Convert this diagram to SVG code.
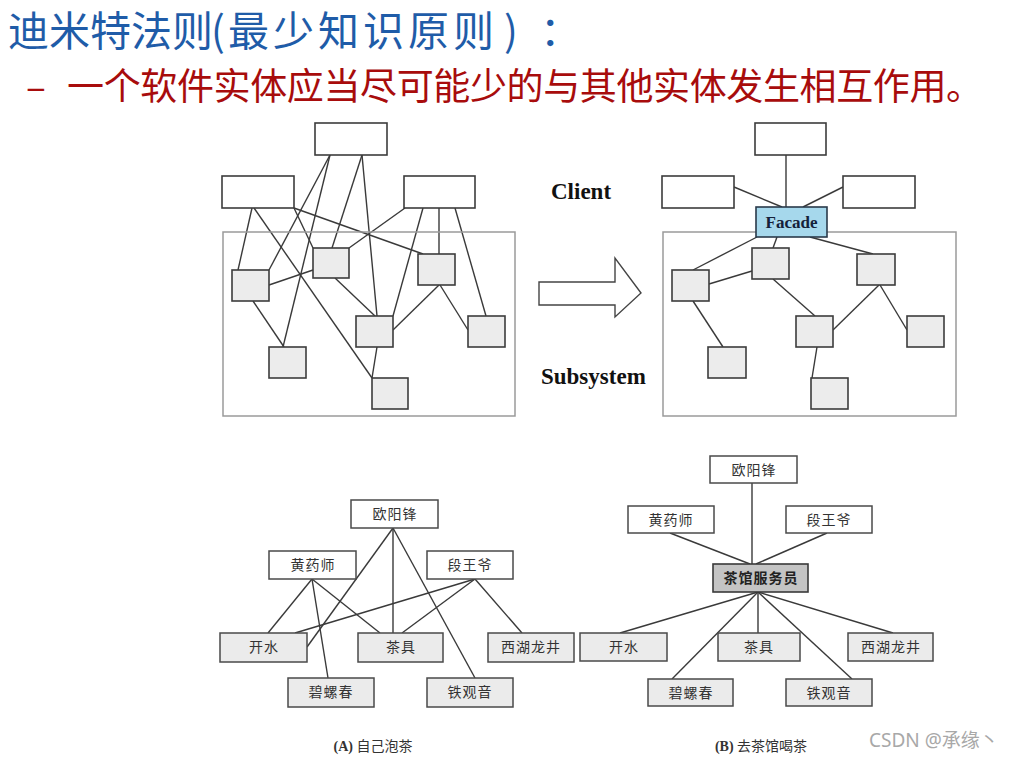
<svg xmlns="http://www.w3.org/2000/svg" width="1010" height="757" viewBox="0 0 1010 757">
<style>
.title{font-family:"Noto Sans CJK SC","Noto Sans",sans-serif;font-size:41px;fill:#1f5ca8}
.sub{font-family:"Noto Sans CJK SC","Noto Sans",sans-serif;font-size:37px;fill:#a80c0c}
.cb{fill:#fff;stroke:#3c3c3c;stroke-width:1.6}
.sb{fill:#ececec;stroke:#3c3c3c;stroke-width:1.6}
.outer{fill:none;stroke:#9a9a9a;stroke-width:1.5}
.ln{stroke:#3a3a3a;stroke-width:1.4;fill:none}
.lbl{font-family:"Liberation Serif",serif;font-weight:bold;font-size:23px;fill:#111}
.fac{fill:#a6d8ec;stroke:#2a3a4a;stroke-width:1.6}
.ft{font-family:"Liberation Serif",serif;font-weight:bold;font-size:17px;fill:#14213a}
.tb{fill:#fff;stroke:#4a4a4a;stroke-width:1.5}
.tg{fill:#ebebeb;stroke:#4a4a4a;stroke-width:1.5}
.tw{fill:#c4c4c4;stroke:#3a3a3a;stroke-width:1.6}
.tt{font-family:"Noto Sans CJK SC",sans-serif;font-size:14px;fill:#333;text-anchor:middle;letter-spacing:1px}
.ttb{font-family:"Noto Sans CJK SC",sans-serif;font-size:14px;font-weight:bold;fill:#222;text-anchor:middle;letter-spacing:1px}
.cap{font-family:"Liberation Serif","Noto Sans CJK SC",serif;font-size:14px;fill:#333;text-anchor:middle}
.wm{font-family:"Noto Sans","Noto Sans CJK SC",sans-serif;font-size:19px;fill:#a8a8a8}
</style>
<rect width="1010" height="757" fill="#fff"/>
<text class="title" y="46"><tspan x="8">迪米特法则</tspan><tspan x="211">(</tspan><tspan x="228" letter-spacing="4">最少知识原则</tspan><tspan x="504">)</tspan><tspan x="540">：</tspan></text>
<text class="sub" x="26" y="100">–</text>
<text class="sub" x="67" y="100" textLength="916" lengthAdjust="spacing">一个软件实体应当尽可能少的与其他实体发生相互作用。</text>

<g id="connectors">
  <!-- left facade diagram -->
  <line class="ln" x1="330" y1="155" x2="269" y2="270"/>
  <line class="ln" x1="330" y1="155" x2="283" y2="347"/>
  <line class="ln" x1="362" y1="155" x2="332" y2="248"/>
  <line class="ln" x1="362" y1="155" x2="377" y2="316"/>
  <line class="ln" x1="252" y1="208" x2="238" y2="270"/>
  <line class="ln" x1="254" y1="208" x2="372" y2="378"/>
  <line class="ln" x1="294" y1="208" x2="423" y2="254"/>
  <line class="ln" x1="294" y1="208" x2="313" y2="248"/>
  <line class="ln" x1="405" y1="208" x2="349" y2="248"/>
  <line class="ln" x1="423" y1="208" x2="393" y2="316"/>
  <line class="ln" x1="439" y1="208" x2="439" y2="254"/>
  <line class="ln" x1="455" y1="208" x2="486" y2="316"/>
  <line class="ln" x1="269" y1="285" x2="313" y2="270"/>
  <line class="ln" x1="253" y1="301" x2="284" y2="347"/>
  <line class="ln" x1="335" y1="278" x2="375" y2="316"/>
  <line class="ln" x1="439" y1="285" x2="393" y2="330"/>
  <line class="ln" x1="440" y1="285" x2="468" y2="330"/>
  <line class="ln" x1="377" y1="347" x2="372" y2="378"/>
  <!-- right facade diagram -->
  <line class="ln" x1="786" y1="155" x2="786" y2="207"/>
  <line class="ln" x1="734" y1="187" x2="782" y2="207"/>
  <line class="ln" x1="843" y1="187" x2="803" y2="207"/>
  <line class="ln" x1="757" y1="237" x2="693" y2="270"/>
  <line class="ln" x1="777" y1="237" x2="773" y2="248"/>
  <line class="ln" x1="810" y1="237" x2="873" y2="254"/>
  <line class="ln" x1="709" y1="284" x2="752" y2="271"/>
  <line class="ln" x1="693" y1="301" x2="723" y2="347"/>
  <line class="ln" x1="773" y1="279" x2="815" y2="316"/>
  <line class="ln" x1="879" y1="285" x2="833" y2="330"/>
  <line class="ln" x1="880" y1="285" x2="907" y2="330"/>
  <line class="ln" x1="817" y1="347" x2="812" y2="378"/>
  <!-- bottom left tea diagram -->
  <line class="ln" x1="393" y1="528" x2="307" y2="647"/>
  <line class="ln" x1="393" y1="528" x2="393" y2="633"/>
  <line class="ln" x1="393" y1="528" x2="475" y2="678"/>
  <line class="ln" x1="312" y1="579" x2="268" y2="633"/>
  <line class="ln" x1="312" y1="579" x2="328" y2="678"/>
  <line class="ln" x1="312" y1="579" x2="380" y2="633"/>
  <line class="ln" x1="475" y1="579" x2="295" y2="633"/>
  <line class="ln" x1="475" y1="579" x2="402" y2="633"/>
  <line class="ln" x1="475" y1="579" x2="522" y2="633"/>
  <!-- bottom right tea diagram -->
  <line class="ln" x1="752" y1="483" x2="752" y2="564"/>
  <line class="ln" x1="670" y1="533" x2="750" y2="564"/>
  <line class="ln" x1="827" y1="533" x2="756" y2="564"/>
  <line class="ln" x1="758" y1="592" x2="620" y2="633"/>
  <line class="ln" x1="758" y1="592" x2="672" y2="679"/>
  <line class="ln" x1="758" y1="592" x2="758" y2="633"/>
  <line class="ln" x1="758" y1="592" x2="852" y2="679"/>
  <line class="ln" x1="758" y1="592" x2="893" y2="633"/>
</g>

<!-- left facade diagram -->
<g id="left-subsystem"><rect class="outer" x="223" y="232" width="292" height="184"/></g>
<g id="left-client-top"><rect class="cb" x="315" y="123" width="72" height="32"/></g>
<g id="left-client-left"><rect class="cb" x="222" y="176" width="72" height="32"/></g>
<g id="left-client-right"><rect class="cb" x="404" y="176" width="71" height="32"/></g>
<g id="left-sub-a"><rect class="sb" x="232" y="270" width="37" height="31"/></g>
<g id="left-sub-b"><rect class="sb" x="313" y="248" width="36" height="30"/></g>
<g id="left-sub-c"><rect class="sb" x="418" y="254" width="37" height="31"/></g>
<g id="left-sub-d"><rect class="sb" x="356" y="316" width="37" height="31"/></g>
<g id="left-sub-e"><rect class="sb" x="468" y="316" width="37" height="31"/></g>
<g id="left-sub-f"><rect class="sb" x="269" y="347" width="37" height="31"/></g>
<g id="left-sub-g"><rect class="sb" x="372" y="378" width="36" height="31"/></g>

<!-- middle labels and arrow -->
<g id="label-client"><text class="lbl" x="551" y="199">Client</text></g>
<g id="label-subsystem"><text class="lbl" x="541" y="384">Subsystem</text></g>
<g id="arrow"><polygon points="539,282 615,282 615,258 641,293 615,317 615,305 539,305" fill="#fff" stroke="#444" stroke-width="1.4"/></g>

<!-- right facade diagram -->
<g id="right-subsystem"><rect class="outer" x="663" y="232" width="293" height="184"/></g>
<g id="right-client-top"><rect class="cb" x="755" y="123" width="71" height="32"/></g>
<g id="right-client-left"><rect class="cb" x="662" y="176" width="72" height="32"/></g>
<g id="right-client-right"><rect class="cb" x="843" y="176" width="72" height="32"/></g>
<g id="facade"><rect class="fac" x="756" y="207" width="71" height="30"/><text class="ft" x="791.5" y="228" text-anchor="middle">Facade</text></g>
<g id="right-sub-a"><rect class="sb" x="672" y="270" width="37" height="31"/></g>
<g id="right-sub-b"><rect class="sb" x="752" y="248" width="37" height="31"/></g>
<g id="right-sub-c"><rect class="sb" x="857" y="254" width="38" height="31"/></g>
<g id="right-sub-d"><rect class="sb" x="796" y="316" width="37" height="31"/></g>
<g id="right-sub-e"><rect class="sb" x="907" y="316" width="37" height="31"/></g>
<g id="right-sub-f"><rect class="sb" x="708" y="347" width="38" height="31"/></g>
<g id="right-sub-g"><rect class="sb" x="811" y="378" width="37" height="31"/></g>

<!-- bottom left tea diagram -->
<g id="a-ouyangfeng"><rect class="tb" x="351" y="500" width="87" height="28"/><text class="tt" x="395" y="519">欧阳锋</text></g>
<g id="a-huangyaoshi"><rect class="tb" x="269" y="551" width="87" height="28"/><text class="tt" x="313" y="570">黄药师</text></g>
<g id="a-duanwangye"><rect class="tb" x="427" y="551" width="86" height="28"/><text class="tt" x="470" y="570">段王爷</text></g>
<g id="a-kaishui"><rect class="tg" x="220" y="633" width="87" height="29"/><text class="tt" x="264" y="652">开水</text></g>
<g id="a-chaju"><rect class="tg" x="358" y="633" width="85" height="29"/><text class="tt" x="401" y="652">茶具</text></g>
<g id="a-longjing"><rect class="tg" x="488" y="633" width="86" height="29"/><text class="tt" x="531" y="652">西湖龙井</text></g>
<g id="a-biluochun"><rect class="tg" x="288" y="678" width="86" height="29"/><text class="tt" x="331" y="697">碧螺春</text></g>
<g id="a-tieguanyin"><rect class="tg" x="427" y="678" width="86" height="29"/><text class="tt" x="470" y="697">铁观音</text></g>
<g id="caption-a"><text class="cap" x="373" y="751"><tspan font-weight="bold">(A)</tspan> 自己泡茶</text></g>

<!-- bottom right tea diagram -->
<g id="b-ouyangfeng"><rect class="tb" x="710" y="456" width="87" height="27"/><text class="tt" x="754" y="474.5">欧阳锋</text></g>
<g id="b-huangyaoshi"><rect class="tb" x="628" y="506" width="86" height="27"/><text class="tt" x="671" y="524.5">黄药师</text></g>
<g id="b-duanwangye"><rect class="tb" x="786" y="506" width="86" height="27"/><text class="tt" x="829" y="524.5">段王爷</text></g>
<g id="b-waiter"><rect class="tw" x="713" y="564" width="95" height="28"/><text class="ttb" x="761" y="583">茶馆服务员</text></g>
<g id="b-kaishui"><rect class="tg" x="580" y="633" width="87" height="28"/><text class="tt" x="624" y="652">开水</text></g>
<g id="b-chaju"><rect class="tg" x="718" y="633" width="82" height="28"/><text class="tt" x="759" y="652">茶具</text></g>
<g id="b-longjing"><rect class="tg" x="848" y="633" width="85" height="28"/><text class="tt" x="891" y="652">西湖龙井</text></g>
<g id="b-biluochun"><rect class="tg" x="648" y="679" width="85" height="27"/><text class="tt" x="691" y="697.5">碧螺春</text></g>
<g id="b-tieguanyin"><rect class="tg" x="786" y="679" width="86" height="27"/><text class="tt" x="829" y="697.5">铁观音</text></g>
<g id="caption-b"><text class="cap" x="761" y="751"><tspan font-weight="bold">(B)</tspan> 去茶馆喝茶</text></g>

<text class="wm" x="869" y="747">CSDN @承缘丶</text>
</svg>
